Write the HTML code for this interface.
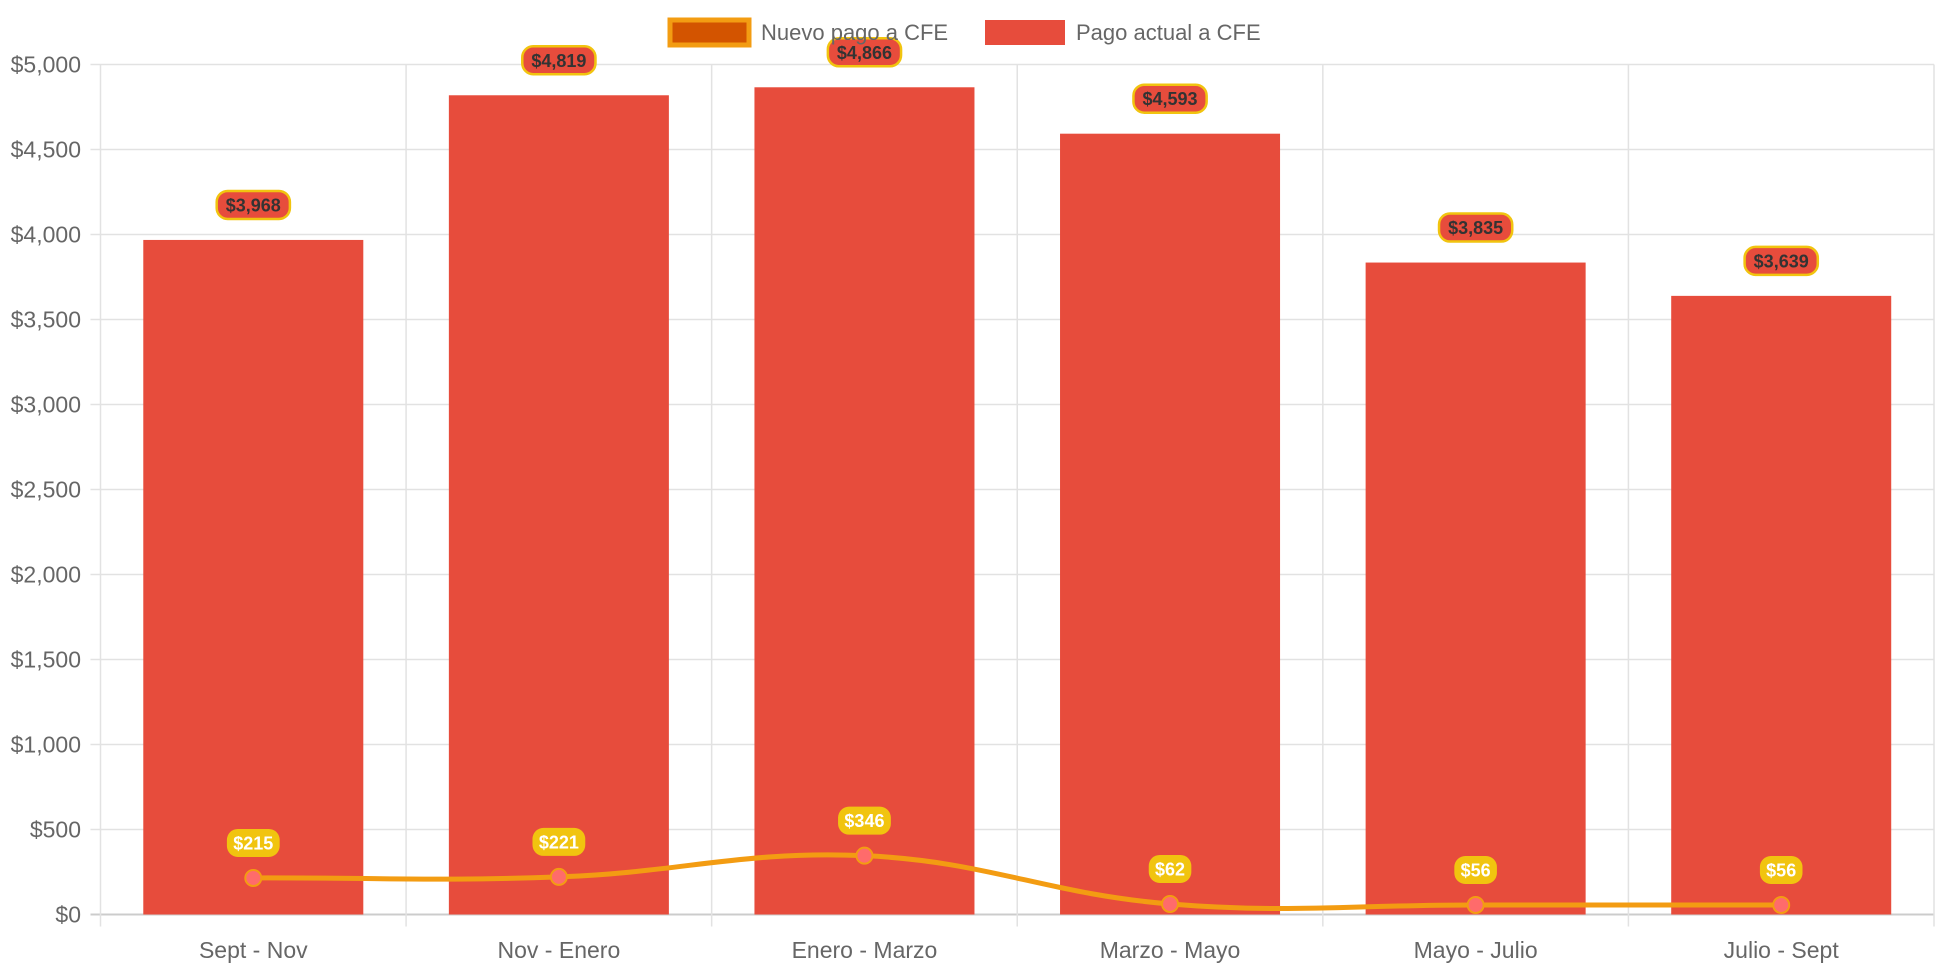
<!DOCTYPE html>
<html><head><meta charset="utf-8">
<style>
html,body{margin:0;padding:0;background:#fff;}
svg{display:block;font-family:"Liberation Sans",Arial,sans-serif;}
</style></head>
<body>
<svg id="chart" width="1942" height="970" viewBox="0 0 1942 970" xmlns="http://www.w3.org/2000/svg">
<g id="grid"></g>
<g id="bars"></g>
<g id="line"></g>
<g id="labels"></g>
<g id="legend">
  <rect x="670" y="20" width="79" height="25" fill="#d35400" stroke="#f39c12" stroke-width="5"/>
  <text x="761" y="40" font-size="22" fill="#666">Nuevo pago a CFE</text>
  <rect x="985" y="20" width="80" height="25" fill="#e74c3c"/>
  <text x="1076" y="40" font-size="22" fill="#666">Pago actual a CFE</text>
</g>
</svg>
<script>
const categories = ["Sept - Nov","Nov - Enero","Enero - Marzo","Marzo - Mayo","Mayo - Julio","Julio - Sept"];
const actualValues = [3968,4819,4866,4593,3835,3639];
const nuevoValues = [215,221,346,62,56,56];
const yTicks = [0,500,1000,1500,2000,2500,3000,3500,4000,4500,5000];
const yMax = 5000;

const NS="http://www.w3.org/2000/svg";
const L=100.5,R=1934,T=64.5,B=914.5;
const catW=(R-L)/categories.length;
const x=i=>L+catW*(i+0.5);
const y=v=>B-(v/yMax)*(B-T);
function mk(tag,attrs,parent){const e=document.createElementNS(NS,tag);for(const k in attrs)e.setAttribute(k,attrs[k]);parent.appendChild(e);return e;}
const fmt=v=>"$"+v.toLocaleString("en-US");

const grid=document.getElementById("grid");
yTicks.forEach(t=>{
  const g=mk("line",{x1:L-10,x2:R,y1:y(t),y2:y(t),stroke:t===0?"#ccc":"#e2e2e2","stroke-width":t===0?2:1.5},grid);
  
  
  const tx=mk("text",{x:81,y:y(t)+8,"text-anchor":"end","font-size":23,fill:"#666"},grid);
  
  
  tx.textContent=fmt(t);
});
for(let i=0;i<=categories.length;i++){
  const gx=L+catW*i;
  const g=mk("line",{x1:gx,x2:gx,y1:T,y2:B+12,stroke:"#e2e2e2","stroke-width":1.5},grid);
  
  
}
categories.forEach((c,i)=>{
  const tx=mk("text",{x:x(i),y:958,"text-anchor":"middle","font-size":23,fill:"#666"},grid);
  
  
  tx.textContent=c;
});

const bars=document.getElementById("bars");
const bw=catW*0.72;
actualValues.forEach((v,i)=>{
  const r=mk("rect",{x:x(i)-bw/2,y:y(v),width:bw,height:B-y(v),fill:"#e74c3c"},bars);
  
  
});

const pts=nuevoValues.map((v,i)=>({x:x(i),y:y(v)}));
const t=0.4;
const cps=pts.map((p,i)=>{
  const prev=pts[i-1]||p,next=pts[i+1]||p;
  const d01=Math.hypot(p.x-prev.x,p.y-prev.y),d12=Math.hypot(next.x-p.x,next.y-p.y);
  let s01=d01/(d01+d12),s12=d12/(d01+d12);
  if(isNaN(s01))s01=0;if(isNaN(s12))s12=0;
  const fa=t*s01,fb=t*s12;
  return {p:{x:p.x-fa*(next.x-prev.x),y:p.y-fa*(next.y-prev.y)},n:{x:p.x+fb*(next.x-prev.x),y:p.y+fb*(next.y-prev.y)}};
});
let d="M"+pts[0].x+","+pts[0].y;
for(let i=1;i<pts.length;i++){d+=" C"+cps[i-1].n.x+","+cps[i-1].n.y+" "+cps[i].p.x+","+cps[i].p.y+" "+pts[i].x+","+pts[i].y;}
const lineG=document.getElementById("line");
const path=mk("path",{d:d,fill:"none",stroke:"#f39c12","stroke-width":5},lineG);


pts.forEach((p,i)=>{
  const c=mk("circle",{cx:p.x,cy:p.y,r:8,fill:"#ff6b6b",stroke:"#f39c12","stroke-width":2},lineG);
  
  
});

const labels=document.getElementById("labels");
function badge(cx,cy,text,bg,border,color,name){
  const w=text.length*10.2+12,h=28;
  const g=mk("g",{},labels);
  
  
  mk("rect",{x:cx-w/2,y:cy-h/2,width:w,height:h,rx:11,fill:bg,stroke:border,"stroke-width":border==="none"?0:2.5},g);
  const tx=mk("text",{x:cx,y:cy+6.5,"text-anchor":"middle","font-size":18,"font-weight":"bold",fill:color},g);
  tx.textContent=text;
}
actualValues.forEach((v,i)=>badge(x(i),y(v)-35,fmt(v),"#e74c3c","#f1c40f","#333","bar-value-label"));
nuevoValues.forEach((v,i)=>badge(x(i),y(v)-35,fmt(v),"#f1c40f","none","#fff","line-value-label"));
</script>
</body></html>
